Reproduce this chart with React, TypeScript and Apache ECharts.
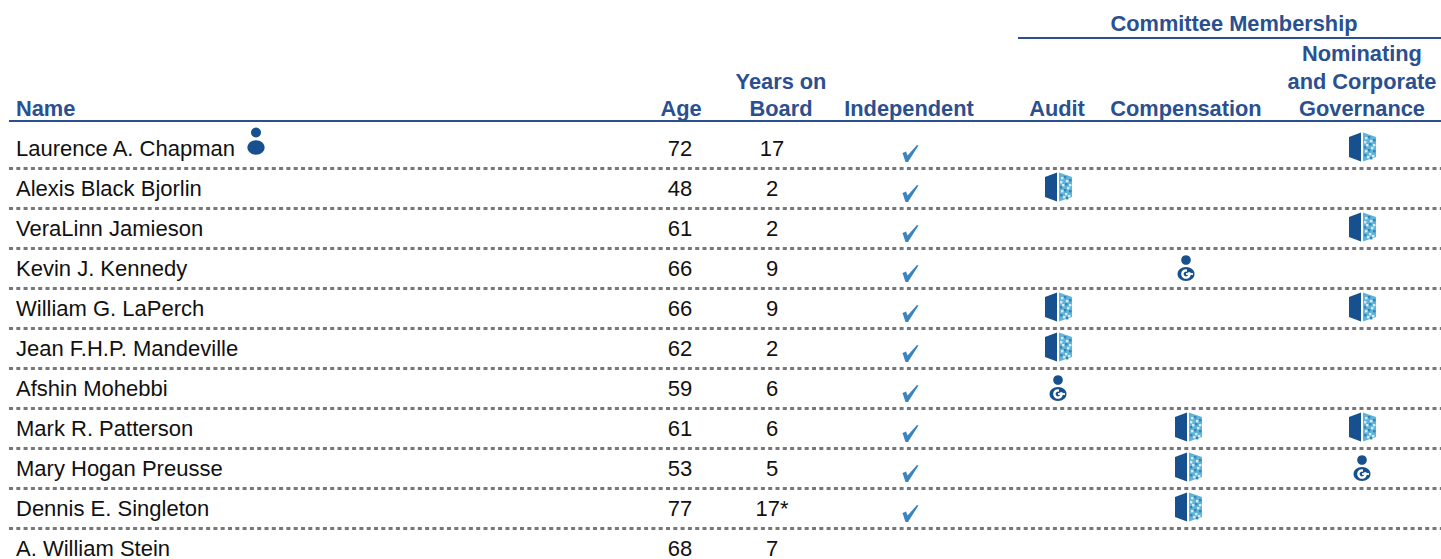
import React, { useEffect, useRef } from "react";
import * as echarts from "echarts";

const names = ["Laurence A. Chapman", "Alexis Black Bjorlin", "VeraLinn Jamieson", "Kevin J. Kennedy", "William G. LaPerch", "Jean F.H.P. Mandeville", "Afshin Mohebbi", "Mark R. Patterson", "Mary Hogan Preusse", "Dennis E. Singleton", "A. William Stein"];
const ages = ["72", "48", "61", "66", "66", "62", "59", "61", "53", "77", "68"];
const years = ["17", "2", "2", "9", "9", "2", "6", "6", "5", "17*", "7"];
const independent = [1, 1, 1, 1, 1, 1, 1, 1, 1, 1, 0];
// m = member, c = chair, "" = none
const audit = ["", "m", "", "", "m", "m", "c", "", "", "", ""];
const compensation = ["", "", "", "c", "", "", "", "m", "m", "m", ""];
const nominating = ["m", "", "m", "", "m", "", "", "m", "c", "", ""];
const chairOfBoard = [1, 0, 0, 0, 0, 0, 0, 0, 0, 0, 0];

const NAVY = "#2a5090";
const ICON = "#17508f";
const FONT = '"Liberation Sans", Arial, sans-serif';

const COL = { name: 16, age: 680, years: 772, indep: 909, audit: 1058, comp: 1186, nom: 1362, chair: 256 };

function shield(x: number, y: number) {
  const white = [[3, -10], [8, -7], [4, -3], [9, 0], [3, 3], [7, 6], [11, -3], [5, 9], [10, 8], [2, -6]];
  const dark = [[6, -11], [11, -8], [2, -1], [7, -4], [6, 2], [11, 3], [2, 7], [8, 10]];
  return {
    type: "group", x, y: y - 1,
    children: [
      { type: "polygon", shape: { points: [[-13, -10], [-1, -14.5], [-1, 14.5], [-13, 10]] }, style: { fill: ICON } },
      { type: "polygon", shape: { points: [[1, -14.5], [14, -10], [14, 10], [1, 14.5]] }, style: { fill: "#62b3d9" } },
      ...dark.map(([a, b]) => ({ type: "rect", shape: { x: a, y: b, width: 2.4, height: 2.4 }, style: { fill: "#2f86bb" } })),
      ...white.map(([a, b]) => ({ type: "rect", shape: { x: a, y: b, width: 2.4, height: 2.4 }, style: { fill: "#d5ecf6" } })),
    ],
  };
}

function chairPerson(x: number, y: number) {
  return {
    type: "group", x, y,
    children: [
      { type: "circle", shape: { cx: 0, cy: -8, r: 4.8 }, style: { fill: ICON } },
      { type: "ellipse", shape: { cx: 0, cy: 6, rx: 8.5, ry: 7 }, style: { fill: ICON } },
      { type: "circle", shape: { cx: 0, cy: 6, r: 4.8 }, style: { fill: "#ffffff" } },
      { type: "circle", shape: { cx: 0, cy: 6, r: 2.4 }, style: { fill: ICON } },
      { type: "rect", shape: { x: 1, y: 1, width: 5, height: 3.2 }, style: { fill: ICON } },
      { type: "rect", shape: { x: 0, y: 5.1, width: 7, height: 1.8 }, style: { fill: "#ffffff" } },
    ],
  };
}

function person(x: number, y: number) {
  return {
    type: "group", x, y,
    children: [
      { type: "circle", shape: { cx: 0, cy: -15.5, r: 5 }, style: { fill: ICON } },
      { type: "ellipse", shape: { cx: 0, cy: -0.5, rx: 8.6, ry: 7.2 }, style: { fill: ICON } },
    ],
  };
}

function check(x: number, y: number) {
  return {
    type: "group", x, y,
    children: [
      { type: "polygon", shape: { points: [[-7.5, 0], [-4, -1.5], [-2.5, 2.5], [7, -8], [8.5, -7.5], [-2, 9], [-4.5, 9]] }, style: { fill: "#3a84c0" } },
    ],
  };
}

function textSeries(col: number, values: string[], align: string) {
  return {
    type: "custom",
    coordinateSystem: "cartesian2d",
    silent: true,
    data: values.map((_, i) => [col, i]),
    renderItem: (params: any, api: any) => {
      const p = api.coord([api.value(0), api.value(1)]);
      return {
        type: "text",
        x: p[0],
        y: p[1],
        style: { text: values[params.dataIndex], fill: "#111111", font: `22px ${FONT}`, align, verticalAlign: "middle" },
      };
    },
  };
}

function markSeries(col: number, flags: any[], draw: (v: any, x: number, y: number) => any) {
  return {
    type: "custom",
    coordinateSystem: "cartesian2d",
    silent: true,
    data: flags.map((_, i) => [col, i]),
    renderItem: (params: any, api: any) => {
      const v = flags[params.dataIndex];
      if (!v) return null;
      const p = api.coord([api.value(0), api.value(1)]);
      return draw(v, p[0], p[1]);
    },
  };
}

const committeeMark = (shieldShift: number) => (v: string, x: number, y: number) =>
  v === "c" ? chairPerson(x, y) : shield(x + shieldShift, y);

function headerText(text: string, x: number, y: number, align = "center") {
  return {
    type: "text", x, y,
    style: { text, fill: NAVY, font: `bold 21.8px ${FONT}`, align, verticalAlign: "middle" },
  };
}

export default function App() {
  const ref = useRef<HTMLDivElement>(null);
  useEffect(() => {
    const chart = echarts.init(ref.current!, null, { renderer: "svg" });
    chart.setOption({
      animation: false,
      backgroundColor: "#ffffff",
      grid: { left: 9, top: 128, width: 1432, height: 440, containLabel: false },
      xAxis: { type: "value", min: 9, max: 1441, show: false, splitLine: { show: false } },
      yAxis: {
        type: "category",
        data: names,
        inverse: true,
        axisLine: { show: false },
        axisTick: { show: false },
        axisLabel: { show: false },
        splitLine: {
          show: true,
          showMinLine: false,
          lineStyle: { color: "#777777", width: 3, type: [4, 3.3] },
        },
      },
      graphic: [
        headerText("Committee Membership", 1234, 23),
        headerText("Nominating", 1362, 53),
        headerText("and Corporate", 1362, 81),
        headerText("Governance", 1362, 108),
        headerText("Compensation", 1186, 108),
        headerText("Audit", 1057, 108),
        headerText("Independent", 909, 108),
        headerText("Years on", 781, 81),
        headerText("Board", 781, 108),
        headerText("Age", 681, 108),
        headerText("Name", 16, 108, "left"),
        { type: "line", shape: { x1: 9, y1: 121, x2: 1441, y2: 121 }, style: { stroke: NAVY, lineWidth: 2 } },
        { type: "line", shape: { x1: 1018, y1: 38, x2: 1441, y2: 38 }, style: { stroke: NAVY, lineWidth: 2 } },
      ],
      series: [
        textSeries(COL.name, names, "left"),
        textSeries(COL.age, ages, "center"),
        textSeries(COL.years, years, "center"),
        markSeries(COL.chair, chairOfBoard, (_v, x, y) => person(x, y)),
        markSeries(COL.indep, independent, (_v, x, y) => check(x + 1, y + 5)),
        markSeries(COL.audit, audit, committeeMark(0)),
        markSeries(COL.comp, compensation, committeeMark(2)),
        markSeries(COL.nom, nominating, committeeMark(0)),
      ],
    });
    return () => chart.dispose();
  }, []);
  return (
    <div style={{ position: "fixed", left: 0, top: 0, width: 1441, height: 559, overflow: "hidden" }}>
      <div ref={ref} style={{ width: 1441, height: 600 }} />
    </div>
  );
}
